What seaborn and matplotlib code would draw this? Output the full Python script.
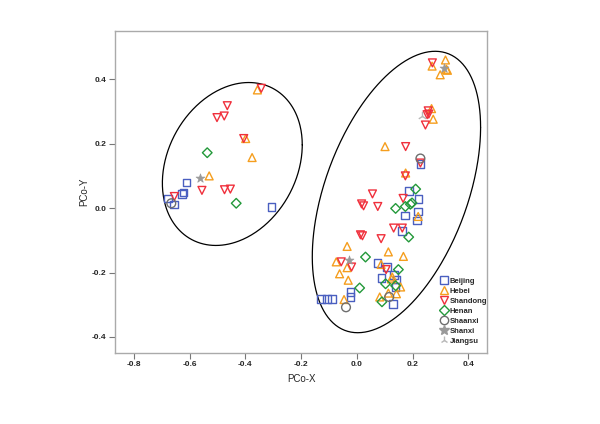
import numpy as np
import pandas as pd
import matplotlib
matplotlib.use("Agg")
import matplotlib.pyplot as plt
from matplotlib.lines import Line2D
import seaborn as sns

# ---------------- data ----------------
beijing_x = [-0.611, -0.622, -0.627, -0.678, -0.656, -0.306,
             0.228, 0.186, 0.221, 0.172, 0.220, 0.216, 0.162, 0.074, 0.108,
             0.134, 0.088, 0.142, 0.139, -0.023, -0.023, -0.129, -0.108, -0.089, 0.129]
beijing_y = [0.079, 0.048, 0.044, 0.030, 0.011, 0.004,
             0.137, 0.053, 0.029, -0.023, -0.011, -0.038, -0.071, -0.171, -0.183,
             -0.207, -0.217, -0.222, -0.245, -0.260, -0.276, -0.282, -0.282, -0.282, -0.297]

hebei_x = [-0.357, -0.399, -0.376, -0.530,
           0.270, 0.318, 0.321, 0.325, 0.299, 0.268, 0.274, 0.101, 0.175, 0.220,
           -0.035, 0.113, 0.167, -0.074, -0.035, -0.062, -0.031, 0.087, 0.127, 0.124,
           0.157, -0.046, 0.082, 0.113, 0.142]
hebei_y = [0.367, 0.216, 0.157, 0.100,
           0.441, 0.460, 0.431, 0.428, 0.414, 0.309, 0.276, 0.191, 0.109, -0.026,
           -0.119, -0.136, -0.150, -0.167, -0.185, -0.204, -0.224, -0.175, -0.214, -0.220,
           -0.245, -0.284, -0.276, -0.264, -0.266]

shandong_x = [-0.343, -0.465, -0.502, -0.476, -0.406, -0.556, -0.475, -0.454, -0.655,
              0.271, 0.256, 0.252, 0.258, 0.246, 0.175, 0.228, 0.174, 0.056, 0.166,
              0.017, 0.024, 0.075, 0.132, 0.163, 0.013, 0.020, 0.087, -0.056, -0.019, 0.105]
shandong_y = [0.372, 0.318, 0.281, 0.286, 0.216, 0.055, 0.057, 0.059, 0.036,
              0.451, 0.302, 0.290, 0.292, 0.258, 0.191, 0.140, 0.100, 0.044, 0.030,
              0.013, 0.007, 0.005, -0.062, -0.062, -0.083, -0.086, -0.095, -0.167, -0.183, -0.191]

henan_x = [-0.537, -0.433,
           0.211, 0.139, 0.174, 0.192, 0.198, 0.186, 0.031, 0.149, 0.103, 0.139, 0.010, 0.090]
henan_y = [0.172, 0.015,
           0.059, -0.001, 0.005, 0.012, 0.016, -0.090, -0.152, -0.191, -0.235, -0.241, -0.248, -0.291]

shaanxi_x = [-0.666, 0.228, -0.039, 0.116]
shaanxi_y = [0.015, 0.154, -0.308, -0.276]

shanxi_x = [-0.563, 0.314, -0.027]
shanxi_y = [0.095, 0.436, -0.160]

jiangsu_x = [0.235]
jiangsu_y = [0.287]

groups = ["Beijing", "Hebei", "Shandong", "Henan", "Shaanxi", "Shanxi", "Jiangsu"]
group_x = [beijing_x, hebei_x, shandong_x, henan_x, shaanxi_x, shanxi_x, jiangsu_x]
group_y = [beijing_y, hebei_y, shandong_y, henan_y, shaanxi_y, shanxi_y, jiangsu_y]

colors = ["#4a5fc0", "#f59e1e", "#f0303c", "#23993a", "#6e6e6e", "#9a9a9a", "#b8b8b8"]
markers = ["s", "^", "v", "D", "o", "*", "2"]
sizes = [30, 32, 32, 24, 40, 45, 45]

# ellipse annotations: center x, center y, half width, half height, phase coupling
ellipses = [(-0.447, 0.137, 0.251, 0.253, 0.235),
            (0.142, 0.050, 0.302, 0.437, 0.46)]

xticks = [-0.8, -0.6, -0.4, -0.2, 0.0, 0.2, 0.4]
yticks = [-0.4, -0.2, 0.0, 0.2, 0.4]

# ---------------- plot ----------------
sns.set_style("white")
plt.rcParams["font.family"] = ["Liberation Sans", "DejaVu Sans"]

fig = plt.figure(figsize=(6.0, 4.24), dpi=100)
ax = fig.add_axes([115 / 600, 1 - 353 / 424, 372 / 600, 322 / 424])

frames = []
for g, xs, ys in zip(groups, group_x, group_y):
    frames.append(pd.DataFrame({"x": xs, "y": ys, "group": g}))
df = pd.concat(frames, ignore_index=True)

for g, c, m, s in zip(groups, colors, markers, sizes):
    sub = df[df["group"] == g]
    if m == "2":
        sns.scatterplot(data=sub, x="x", y="y", marker=m, s=s, color=c,
                        linewidth=1.0, ax=ax, legend=False, zorder=3)
    elif m == "*":
        sns.scatterplot(data=sub, x="x", y="y", marker=m, s=s, color=c,
                        edgecolor=c, linewidth=0.5, ax=ax, legend=False, zorder=3)
    else:
        sns.scatterplot(data=sub, x="x", y="y", marker=m, s=s, facecolor="none",
                        edgecolor=c, linewidth=1.0, ax=ax, legend=False, zorder=3)

t = np.linspace(0, 2 * np.pi, 400)
for cx, cy, hx, hy, cd in ellipses:
    d = np.arccos(cd)
    ax.plot(cx + hx * np.cos(t), cy + hy * np.cos(t - d), color="black", lw=0.9, zorder=2)

ax.set_xlim(-0.868, 0.467)
ax.set_ylim(-0.45, 0.55)
ax.set_xticks(xticks)
ax.set_yticks(yticks)
ax.set_xticklabels([f"{v:.1f}" for v in xticks], fontsize=6, fontweight="bold")
ax.set_yticklabels([f"{v:.1f}" for v in yticks], fontsize=6, fontweight="bold")
ax.tick_params(axis="both", direction="out", length=4, width=0.8, color="#777777",
               pad=2, bottom=True, left=True, top=False, right=False)
for sp in ax.spines.values():
    sp.set_color("#aaaaaa")
    sp.set_linewidth(1.0)
ax.set_xlabel("PCo-X", fontsize=7, labelpad=4)
ax.set_ylabel("PCo-Y", fontsize=7, labelpad=2)

handles = []
for g, c, m in zip(groups, colors, markers):
    if m == "2":
        h = Line2D([], [], linestyle="none", marker=m, color=c, markersize=6, mew=1.0)
    elif m == "*":
        h = Line2D([], [], linestyle="none", marker=m, color=c, markersize=7)
    else:
        h = Line2D([], [], linestyle="none", marker=m, markerfacecolor="none",
                   markeredgecolor=c, markersize=6 if m != "D" else 5.5, mew=1.0)
    handles.append(h)
leg = ax.legend(handles, groups, loc="upper left", bbox_to_anchor=(0.873, 0.235),
                frameon=False, fontsize=5.5, handlelength=1.0, handletextpad=0.3,
                labelspacing=0.35, borderpad=0, borderaxespad=0)
for txt in leg.get_texts():
    txt.set_fontweight("bold")

fig.savefig("out.png", dpi=100)
